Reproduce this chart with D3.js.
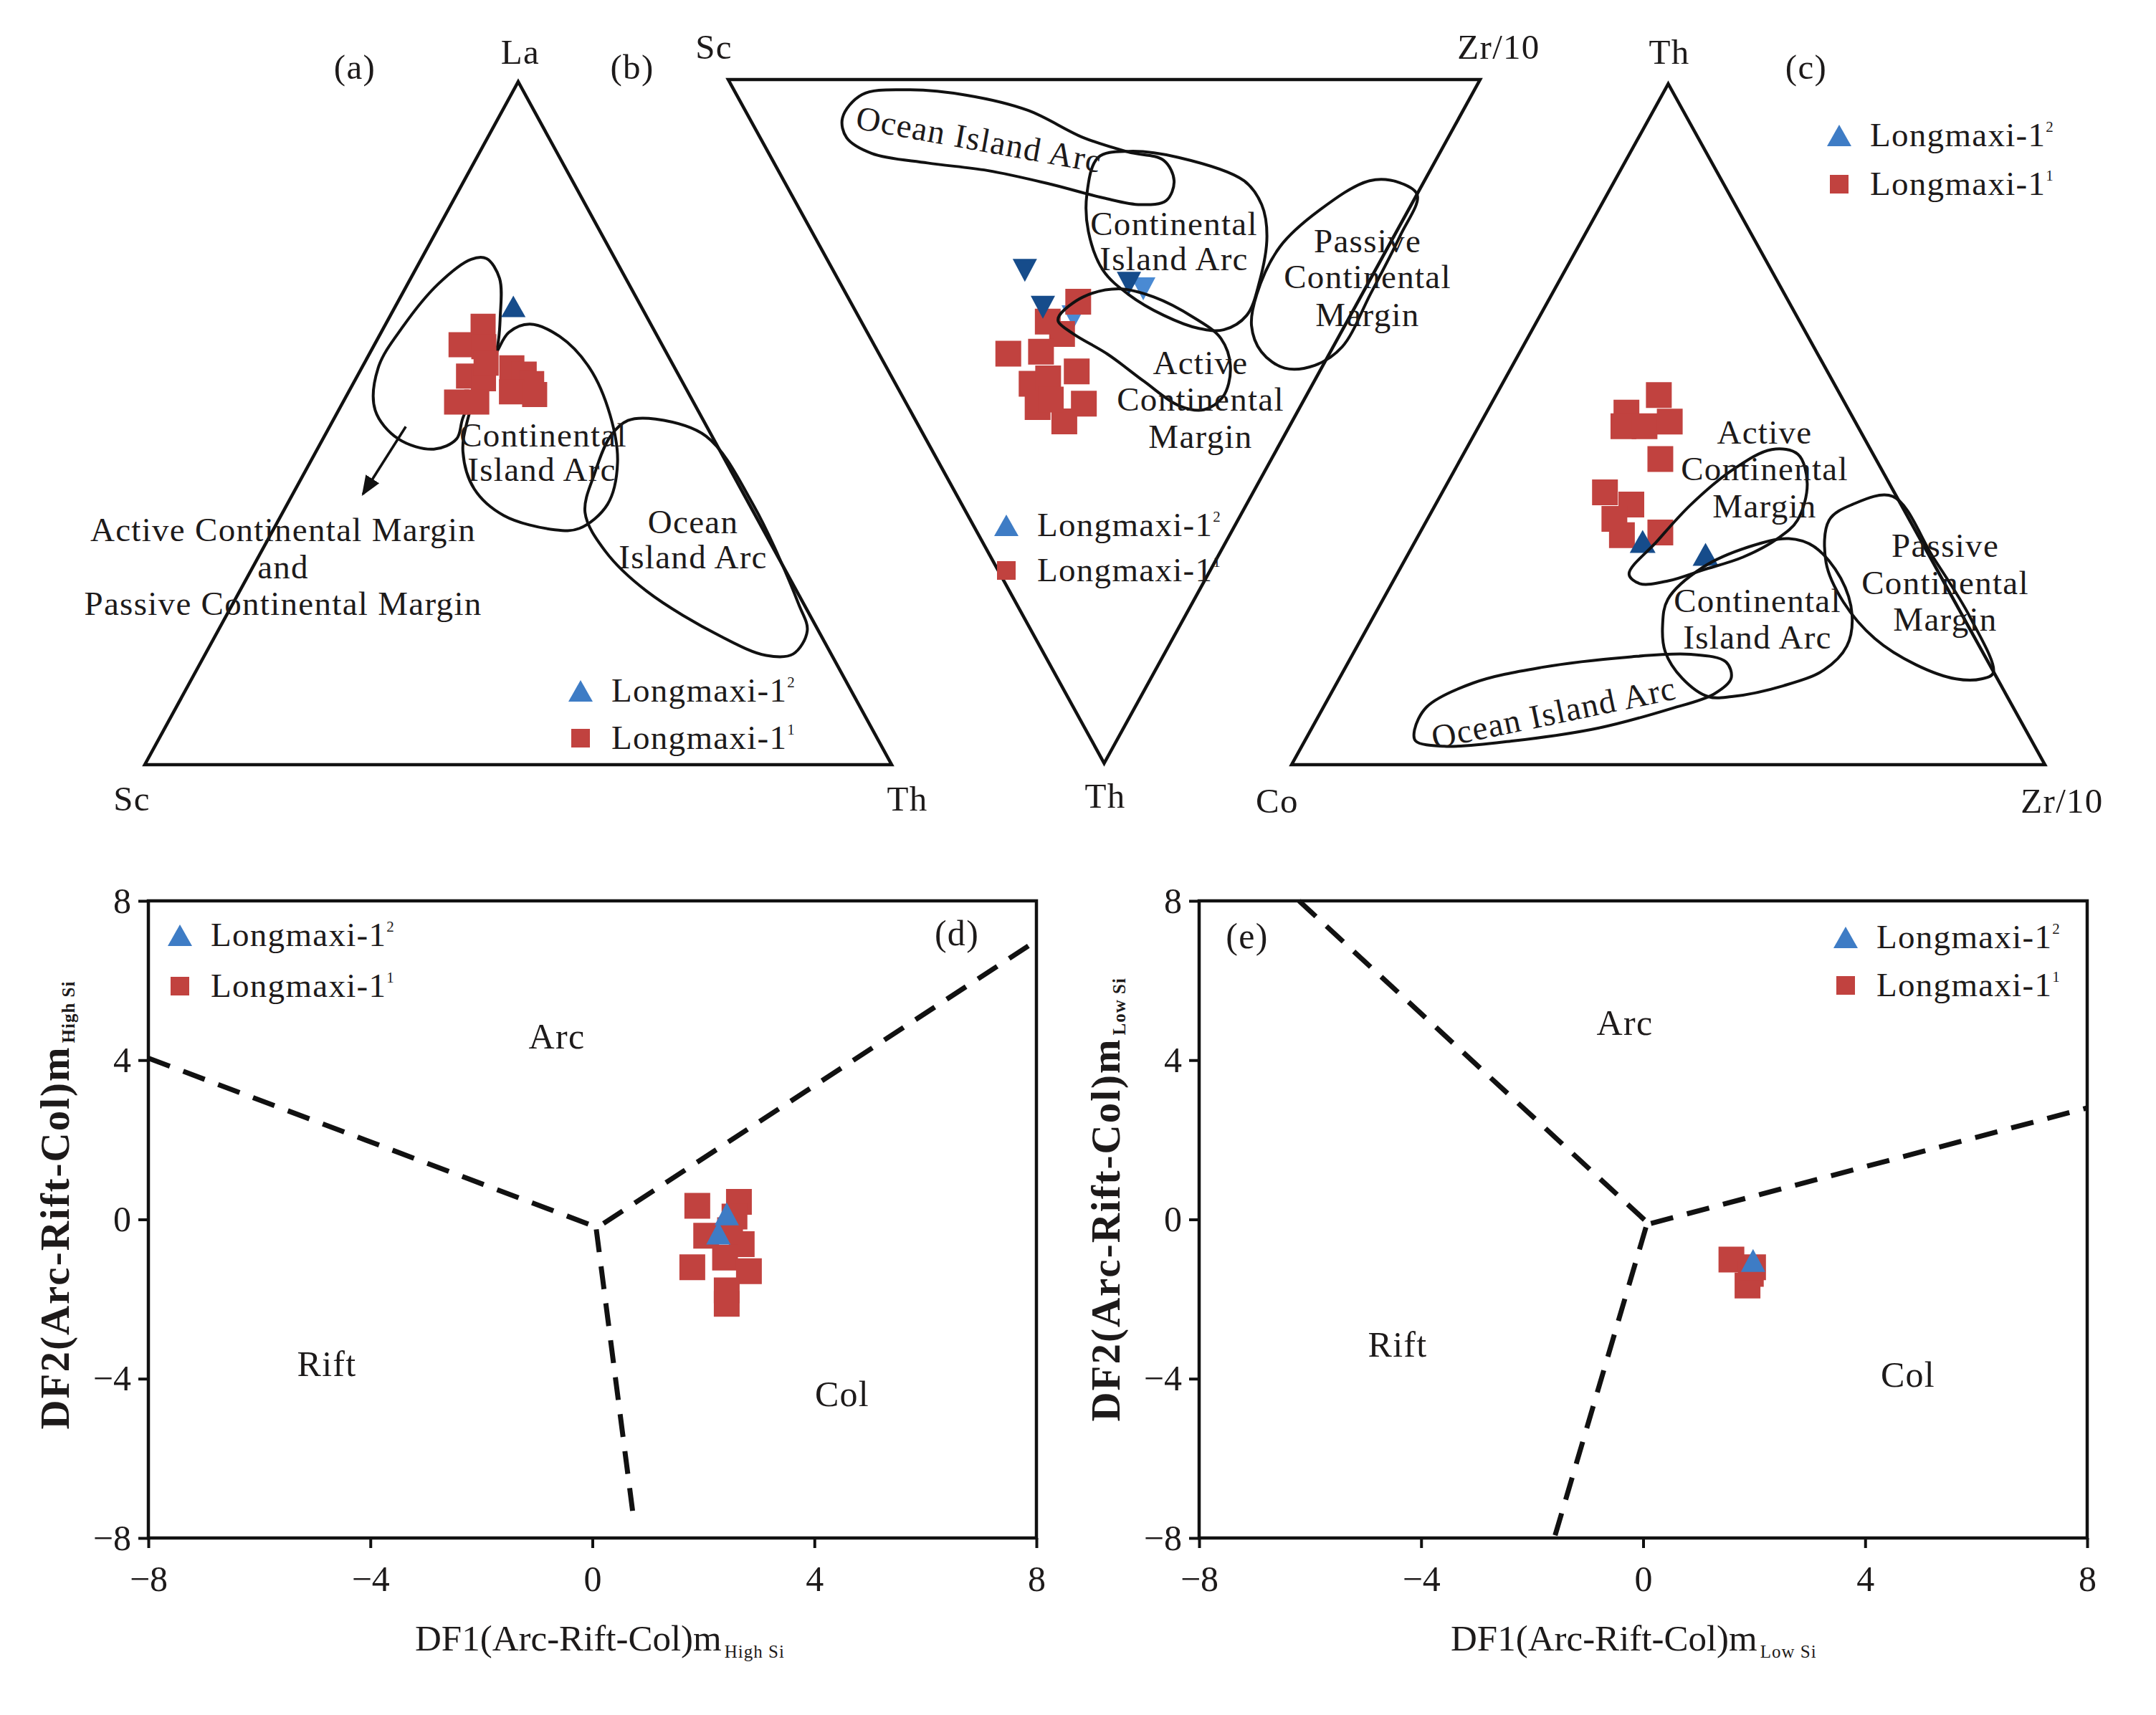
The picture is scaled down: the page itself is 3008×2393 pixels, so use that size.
<!DOCTYPE html>
<meta charset="utf-8">
<script src="https://cdn.jsdelivr.net/npm/d3@7"></script>
<style>
body {margin: 0; background: #fff;}
text {font-family: "Liberation Serif", "Times New Roman", serif; fill: #1d1a1a;}
</style>
<body>
<script>
// ---------------- data ----------------
// ternary values are percentages, listed as [apex, right, left] of each triangle

// (a) La - Th - Sc   ->  [La, Th, Sc]
var aLm11 = [[64.2,13.2,22.6],[61.5,11.6,26.9],[61.2,14.8,24.0],[56.9,14.9,28.2],[56.5,17.1,26.4],
             [53.1,15.2,31.7],[53.1,17.9,29.0],[58.8,16.3,24.9],[58.1,20.1,21.8],[57.2,22.2,20.6],
             [55.8,23.9,20.3],[54.6,21.8,23.6],[54.2,25.1,20.7]];
var aLm12 = [[67.1,15.8,17.1]];
// field boundaries, [La, Th]
var aFieldLeft = [[60.5,16.8],[65.8,14.7],[71.2,11.9],[74.1,8.7],[74.0,6.7],[70.4,4.1],[64.2,2.5],
                  [58.1,2.2],[51.9,4.9],[47.7,10.1],[46.2,15.6],[47.7,17.9],[50.8,17.2],[56.5,16.8]];
var aFieldCIA = [[60.4,16.9],[63.3,17.1],[64.5,19.3],[62.7,24.2],[58.1,30.5],[51.2,36.7],[44.2,41.2],
                 [38.1,42.9],[34.6,40.9],[34.4,37.7],[36.5,29.8],[40.4,23.9],[45.8,19.7],[50.4,18.0],[58.1,16.7]];
var aFieldOIA = [[50.4,39.5],[50.6,43.1],[48.1,51.1],[38.1,62.4],[23.5,75.8],[19.6,78.9],[16.2,78.7],
                 [16.0,75.2],[18.8,67.7],[25.4,54.5],[31.2,46.1],[36.9,40.5],[42.7,38.9],[48.1,38.3]];
var aArrow = [[49.5,10.2],[39.6,9.4]];

// (b) Th - Zr/10 - Sc  ->  [Th, Zr/10, Sc]
var bLm11 = [[32.5,30.3,37.2],[35.4,24.8,39.8],[37.2,25.8,37.0],[40.1,17.2,42.7],[39.8,21.7,38.5],
             [42.7,25.0,32.3],[44.5,18.1,37.4],[43.7,20.7,35.6],[47.4,23.6,29.0],[47.9,17.2,34.9],
             [50.0,19.7,30.3],[46.8,19.5,33.7]];
var bLm12 = [[27.9,25.5,46.6],[33.3,25.2,41.5],[29.8,38.4,31.8]];
var bLm12b = [[30.6,39.9,29.5],[34.7,28.6,36.7]];
var bFieldOIA = [[5.6,12.4],[2.2,16.7],[1.5,23.0],[2.3,30.6],[4.5,37.6],[8.5,43.0],[10.6,47.9],[11.8,52.0],
                 [14.8,51.9],[17.7,49.4],[18.3,45.7],[17.3,41.2],[15.2,34.9],[13.3,27.8],[12.2,20.4],[10.8,13.7],[8.5,11.5]];
var bFieldCIA = [[11.4,43.5],[10.5,48.0],[11.4,54.2],[14.8,61.2],[18.3,61.8],[22.9,60.2],[29.8,55.7],[34.5,51.7],
                 [36.6,47.6],[36.4,44.4],[34.5,40.7],[31.4,37.5],[27.9,35.9],[22.2,36.8],[16.8,39.3]];
var bFieldACM = [[34.5,26.8],[31.8,31.3],[30.6,36.6],[31.8,40.7],[34.8,44.5],[37.9,46.6],[42.2,45.7],
                 [46.4,42.6],[48.3,39.1],[47.7,36.1],[44.1,33.2],[40.2,30.4],[37.2,27.3],[35.4,26.2]];
var bFieldPCM = [[31.4,54.6],[24.5,61.1],[19.1,69.1],[14.8,77.9],[15.1,81.8],[16.9,83.2],[22.9,77.9],
                 [31.4,69.7],[39.1,62.1],[41.8,57.1],[42.2,52.9],[39.8,51.0],[36.0,51.6]];

// (c) Th - Zr/10 - Co  ->  [Th, Zr/10, Co]
var cLm11 = [[54.3,21.6,24.1],[51.7,18.6,29.7],[49.7,19.2,31.1],[49.7,22.0,28.3],[50.4,25.0,24.6],
             [44.9,26.5,28.6],[40.0,21.6,38.4],[38.2,26.0,35.8],[36.1,24.8,39.1],[33.7,27.0,39.3],[34.1,31.9,34.0]];
var cLm12 = [[32.8,30.2,37.0],[30.9,39.5,29.6]];
var cFieldACM = [[28.0,30.8],[32.8,32.1],[38.2,33.9],[43.2,36.8],[46.3,40.6],[45.6,44.4],[41.3,47.8],
                 [35.9,49.2],[33.2,47.9],[30.5,44.7],[28.6,40.3],[27.0,36.5],[26.6,32.9]];
var cFieldCIA = [[24.3,37.8],[29.0,40.1],[32.0,44.7],[33.2,49.4],[32.0,53.4],[27.4,59.2],[22.0,63.4],[17.4,65.0],
                 [13.9,63.7],[11.6,59.5],[10.0,53.4],[10.0,50.3],[12.7,45.5],[16.6,41.3],[20.5,39.0]];
var cFieldOIA = [[5.0,13.8],[8.5,13.7],[12.0,18.1],[14.3,26.1],[15.8,36.7],[16.2,44.9],[15.1,50.1],
                 [12.7,52.0],[10.4,50.9],[8.1,45.9],[5.4,38.1],[3.5,27.7],[2.7,18.9],[3.5,14.7]];
var cFieldPCM = [[29.7,56.1],[35.9,53.4],[38.2,55.3],[39.4,60.1],[30.5,69.9],[21.6,79.3],[13.5,86.4],
                 [12.6,85.3],[12.6,81.9],[14.7,75.5],[18.5,68.2],[23.9,61.3]];

// (d) DF1 / DF2 high Si
var dLm11 = [[1.89,0.34],[2.64,0.44],[2.56,0.07],[2.05,-0.41],[2.48,-0.27],[2.69,-0.62],[1.80,-1.20],
             [2.39,-0.96],[2.82,-1.30],[2.42,-1.78],[2.42,-2.12]];
var dLm12 = [[2.42,0.14],[2.27,-0.34]];
var dBounds = [[[-8,4.05],[0.05,-0.18]], [[0.2,-0.1],[8,7.0]], [[0.07,-0.25],[0.75,-7.6]]];

// (e) DF1 / DF2 low Si
var eLm11 = [[1.59,-1.01],[1.94,-1.37],[1.88,-1.66],[1.98,-1.2]];
var eLm12 = [[1.98,-1.03]];
var eBounds = [[[-6.2,8],[0.07,-0.07]], [[0.14,-0.1],[8,2.8]], [[0.05,-0.2],[-1.6,-8]]];

var axisTicks = [-8, -4, 0, 4, 8];
var seriesName = "Longmaxi-1";

// ---------------- drawing ----------------
var W = 3008, H = 2393;
var RED = "#c1423f", BLUE = "#3e7cc5", NAVY = "#164c8b", LIGHT = "#4a8ad3", INK = "#111";

var svg = d3.select("body").append("svg")
    .attr("width", W).attr("height", H)
    .style("display", "block");
svg.append("rect").attr("width", W).attr("height", H).attr("fill", "#fff");

svg.append("defs").append("marker")
    .attr("id", "arrow")
    .attr("viewBox", "0 0 10 10")
    .attr("refX", 9).attr("refY", 5)
    .attr("markerWidth", 8).attr("markerHeight", 8)
    .attr("markerUnits", "strokeWidth")
    .attr("orient", "auto")
  .append("path").attr("d", "M0,1 L10,5 L0,9 Z").attr("fill", INK);

function squarePath(s) { return "M" + (-s/2) + "," + (-s/2) + "h" + s + "v" + s + "h" + (-s) + "Z"; }
function trianglePath(w, h, down) {
  var k = down ? -1 : 1;
  return "M0," + (-k*h/2) + "L" + (w/2) + "," + (k*h/2) + "L" + (-w/2) + "," + (k*h/2) + "Z";
}

function texts(g, list, size) {
  list.forEach(function(d) {
    g.append("text")
      .attr("transform", "translate(" + d[1] + "," + d[2] + ")" + (d[3] ? " rotate(" + d[3] + ")" : ""))
      .attr("text-anchor", "middle")
      .attr("font-size", size || 47)
      .attr("letter-spacing", 1.3)
      .text(d[0]);
  });
}

function legend(g, x, y1, y2) {
  g.append("path").attr("d", trianglePath(34, 30)).attr("fill", BLUE)
    .attr("transform", "translate(" + x + "," + y1 + ")");
  g.append("path").attr("d", squarePath(26)).attr("fill", RED)
    .attr("transform", "translate(" + x + "," + y2 + ")");
  [[y1, "2"], [y2, "1"]].forEach(function(r) {
    var t = g.append("text").attr("x", x + 43).attr("y", r[0] + 15)
      .attr("font-size", 47).attr("letter-spacing", 1.3).text(seriesName);
    t.append("tspan").attr("dy", -20).attr("font-size", 21).attr("letter-spacing", 0).text(r[1]);
  });
}

// ternary panel: scales in percent, apex component and right component
function ternary(cfg) {
  var x = d3.scaleLinear().domain([0, 100]).range([cfg.left[0], cfg.right[0]]);
  var y = d3.scaleLinear().domain([0, 100]).range([cfg.left[1], cfg.apex[1]]);
  var p = {
    x: function(d) { return x(d[1] + d[0] / 2); },
    y: function(d) { return y(d[0]); }
  };
  p.frame = d3.line().x(p.x).y(p.y).curve(d3.curveLinearClosed);
  p.field = d3.line().x(p.x).y(p.y).curve(d3.curveCatmullRomClosed.alpha(0.5));
  return p;
}

function drawFrame(g, t) {
  g.append("path").attr("d", t.frame([[100, 0], [0, 100], [0, 0]]))
    .attr("fill", "none").attr("stroke", INK).attr("stroke-width", 4.5).attr("stroke-linejoin", "miter");
}
function drawFields(g, t, fields) {
  g.selectAll("path.field").data(fields).join("path").attr("class", "field")
    .attr("d", t.field).attr("fill", "none").attr("stroke", INK).attr("stroke-width", 4);
}
function drawMarks(g, t, data, path, color) {
  g.append("g").selectAll("path").data(data).join("path")
    .attr("d", path).attr("fill", color)
    .attr("transform", function(d) { return "translate(" + t.x(d) + "," + t.y(d) + ")"; });
}

// ---- (a)
var ga = svg.append("g");
var ta = ternary({apex: [722, 114], left: [202, 1067], right: [1244, 1067]});
drawFrame(ga, ta);
drawFields(ga, ta, [aFieldLeft, aFieldCIA, aFieldOIA]);
ga.append("path").attr("d", d3.line().x(ta.x).y(ta.y)(aArrow))
  .attr("stroke", INK).attr("stroke-width", 3.5).attr("fill", "none").attr("marker-end", "url(#arrow)");
drawMarks(ga, ta, aLm11, squarePath(35), RED);
drawMarks(ga, ta, aLm12, trianglePath(34, 30), NAVY);
texts(ga, [["Active Continental Margin", 395, 755], ["and", 395, 807], ["Passive Continental Margin", 395, 858],
           ["Continental", 758, 623], ["Island Arc", 756, 671], ["Ocean", 967, 744], ["Island Arc", 967, 793]]);
texts(ga, [["(a)", 495, 110], ["La", 726, 89], ["(b)", 882, 110], ["Sc", 184, 1131], ["Th", 1266, 1131]], 49);
legend(ga, 810, 964, 1030);

// ---- (b)
var gb = svg.append("g");
var tb = ternary({apex: [1540, 1065], left: [1016, 111], right: [2065, 111]});
drawFrame(gb, tb);
drawMarks(gb, tb, bLm12b, trianglePath(34, 32, true), LIGHT);
drawMarks(gb, tb, bLm11, squarePath(36), RED);
drawMarks(gb, tb, bLm12, trianglePath(34, 32, true), NAVY);
drawFields(gb, tb, [bFieldOIA, bFieldCIA, bFieldACM, bFieldPCM]);
texts(gb, [["Ocean Island Arc", 1363, 210, 10.3], ["Continental", 1638, 328], ["Island Arc", 1638, 377],
           ["Passive", 1908, 352], ["Continental", 1908, 402], ["Margin", 1908, 455],
           ["Active", 1675, 522], ["Continental", 1675, 573], ["Margin", 1675, 625]]);
texts(gb, [["Sc", 996, 82], ["Zr/10", 2091, 82], ["Th", 1542, 1127]], 49);
legend(gb, 1404, 733, 796);

// ---- (c)
var gc = svg.append("g");
var tc = ternary({apex: [2328, 117], left: [1802, 1067], right: [2853, 1067]});
drawFrame(gc, tc);
drawMarks(gc, tc, cLm11, squarePath(36), RED);
drawMarks(gc, tc, cLm12, trianglePath(36, 32), NAVY);
drawFields(gc, tc, [cFieldACM, cFieldCIA, cFieldOIA, cFieldPCM]);
texts(gc, [["Active", 2462, 619], ["Continental", 2462, 670], ["Margin", 2462, 722],
           ["Continental", 2452, 854], ["Island Arc", 2452, 905],
           ["Passive", 2714, 777], ["Continental", 2714, 829], ["Margin", 2714, 880],
           ["Ocean Island Arc", 2171, 1010, -11.7]]);
texts(gc, [["Th", 2329, 89], ["(c)", 2520, 110], ["Co", 1782, 1134], ["Zr/10", 2877, 1134]], 49);
legend(gc, 2566, 189, 257);

// ---- (d) and (e) discriminant plots
function discPanel(cfg) {
  var g = svg.append("g");
  var x = d3.scaleLinear().domain([-8, 8]).range([cfg.l, cfg.r]);
  var y = d3.scaleLinear().domain([-8, 8]).range([cfg.b, cfg.t]);

  var line = d3.line().x(function(d) { return x(d[0]); }).y(function(d) { return y(d[1]); });
  g.selectAll("path.bound").data(cfg.bounds).join("path").attr("class", "bound")
    .attr("d", line).attr("fill", "none").attr("stroke", INK)
    .attr("stroke-width", 7).attr("stroke-dasharray", "32,20");

  var pos = function(d) { return "translate(" + x(d[0]) + "," + y(d[1]) + ")"; };
  g.append("g").selectAll("path").data(cfg.sq).join("path")
    .attr("d", squarePath(36)).attr("fill", RED).attr("transform", pos);
  g.append("g").selectAll("path").data(cfg.tr).join("path")
    .attr("d", trianglePath(34, 32)).attr("fill", BLUE).attr("transform", pos);

  g.append("rect").attr("x", cfg.l).attr("y", cfg.t)
    .attr("width", cfg.r - cfg.l).attr("height", cfg.b - cfg.t)
    .attr("fill", "none").attr("stroke", INK).attr("stroke-width", 4.5);

  var ax = g.append("g").attr("transform", "translate(0," + cfg.b + ")")
    .call(d3.axisBottom(x).tickValues(axisTicks).tickSize(14).tickPadding(24));
  var ay = g.append("g").attr("transform", "translate(" + cfg.l + ",0)")
    .call(d3.axisLeft(y).tickValues(axisTicks).tickSize(14).tickPadding(10));
  [ax, ay].forEach(function(a) {
    a.attr("font-size", 50);
    a.select(".domain").remove();
    a.selectAll("line").attr("stroke", INK).attr("stroke-width", 4);
  });

  // axis titles, subscript placed after the measured main text
  var xt = g.append("text").attr("x", cfg.xt[0]).attr("y", cfg.xt[1])
    .attr("font-size", 51).text("DF1(Arc-Rift-Col)m");
  var xl = xt.node().getComputedTextLength();
  g.append("text").attr("x", cfg.xt[0] + xl + 4).attr("y", cfg.xt[1] + 10)
    .attr("font-size", 25).attr("letter-spacing", 1).text(cfg.sub);

  var yt = g.append("text").attr("transform", "translate(" + cfg.yt[0] + "," + cfg.yt[1] + ") rotate(-90)")
    .attr("text-anchor", "middle").attr("font-size", 57).attr("font-weight", "bold")
    .attr("letter-spacing", 2).text("DF2(Arc-Rift-Col)m");
  var yl = yt.node().getComputedTextLength();
  g.append("text").attr("transform", "translate(" + (cfg.yt[0] + 8) + "," + (cfg.yt[1] - yl / 2 - 4) + ") rotate(-90)")
    .attr("font-size", 25).attr("font-weight", "bold").attr("letter-spacing", 1).text(cfg.sub);

  texts(g, cfg.labels, 50);
  legend(g, cfg.leg[0], cfg.leg[1], cfg.leg[2]);
}

discPanel({l: 207, r: 1446, t: 1257, b: 2146, bounds: dBounds, sq: dLm11, tr: dLm12,
  sub: "High Si", xt: [579, 2303], yt: [96, 1727], leg: [251, 1305, 1376],
  labels: [["(d)", 1335, 1319], ["Arc", 777, 1463], ["Rift", 456, 1920], ["Col", 1175, 1962]]});
discPanel({l: 1673, r: 2912, t: 1257, b: 2146, bounds: eBounds, sq: eLm11, tr: eLm12,
  sub: "Low Si", xt: [2024, 2303], yt: [1562, 1716], leg: [2575, 1308, 1375],
  labels: [["(e)", 1740, 1323], ["Arc", 2267, 1444], ["Rift", 1950, 1893], ["Col", 2662, 1935]]});
</script>
</body>
